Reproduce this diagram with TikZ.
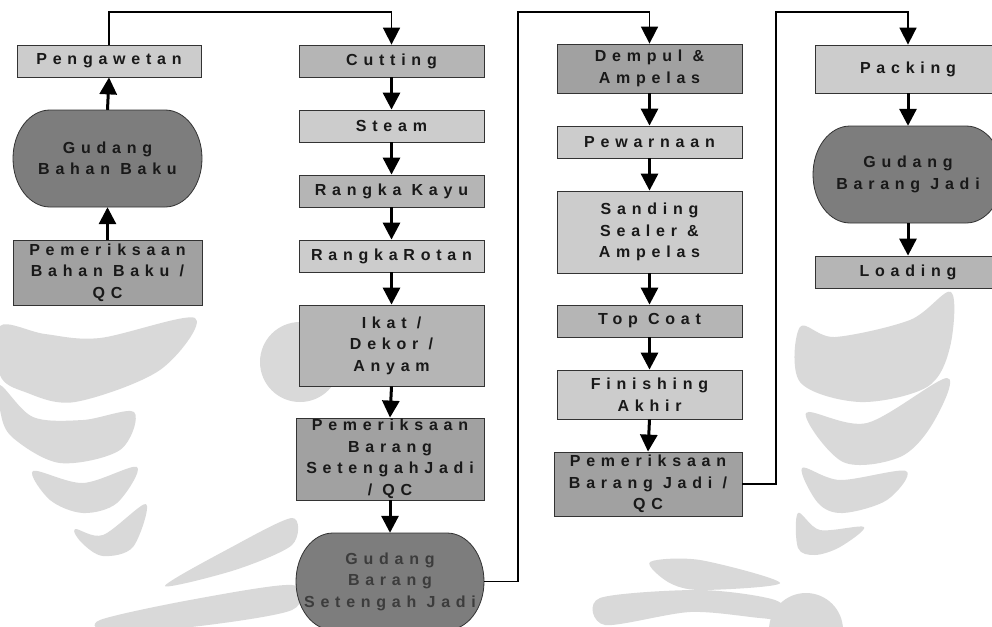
\documentclass[tikz,border=0pt]{standalone}
\usepackage{fontspec}
\newfontfamily\boxfont{Liberation Sans}[LetterSpace=36]
\usetikzlibrary{arrows.meta}

\definecolor{lite}{gray}{0.80}
\definecolor{mid}{gray}{0.71}
\definecolor{deep}{gray}{0.63}
\definecolor{store}{gray}{0.49}
\definecolor{ink}{gray}{0.10}
\definecolor{edge}{gray}{0.20}
\definecolor{mark}{gray}{0.85}

% stadium outline for the storage nodes: centre x, centre y, width, height, fill
\newcommand\storeshape[5]{%
  \filldraw[fill=#5, draw=edge, line width=0.8pt]
    ({#1-#3/2+37},{#2-#4/2}) -- ({#1+#3/2-37},{#2-#4/2})
    arc[start angle=90, end angle=-90, x radius=37pt, y radius=#4/2*1pt]
    -- ({#1-#3/2+37},{#2+#4/2})
    arc[start angle=270, end angle=90, x radius=37pt, y radius=#4/2*1pt]
    -- cycle;}

\begin{document}
\begin{tikzpicture}[x=1pt, y=-1pt,
  lbl/.style={align=center, inner sep=0pt, text=ink,
    font=\boxfont\bfseries\fontsize{16}{21.5}\selectfont},
  proc/.style={lbl, draw=edge, line width=0.8pt},
  flow/.style={line width=3pt, -{Triangle[width=17pt,length=17pt]}},
  route/.style={line width=1.7pt, -{Triangle[width=17pt,length=17pt]}},
  wm/.style={fill=mark, draw=none}]

\useasboundingbox (0,0) rectangle (992,626);
\fill[white] (0,0) rectangle (992,626);

% ---- faint emblem shapes in the background
\fill[wm] plot[smooth cycle, tension=0.55] coordinates {(0,326) (45,334) (100,338) (195,318) (160,370) (75,402) (25,392) (0,375)};
\fill[wm] plot[smooth cycle, tension=0.55] coordinates {(0,385) (33,417) (83,420) (134,412) (120,450) (60,463) (12,437) (0,410)};
\fill[wm] plot[smooth cycle, tension=0.55] coordinates {(33,471) (83,483) (137,467) (117,503) (83,513) (50,500)};
\fill[wm] plot[smooth cycle, tension=0.55] coordinates {(75,529) (103,535) (146,504) (133,547) (103,556) (82,543)};
\fill[wm] (300,362) circle[radius=40pt];
\fill[wm] plot[smooth cycle, tension=0.55] coordinates {(800,327) (835,337) (910,320) (951,292) (950,347) (927,387) (860,402) (800,382)};
\fill[wm] plot[smooth cycle, tension=0.55] coordinates {(806,413) (867,423) (947,378) (933,423) (900,457) (843,462)};
\fill[wm] plot[smooth cycle, tension=0.55] coordinates {(802,468) (840,480) (906,471) (887,500) (843,513) (818,503)};
\fill[wm] plot[smooth cycle, tension=0.55] coordinates {(798,513) (820,530) (864,527) (840,547) (815,555) (798,548)};
\fill[wm] (806,630) circle[radius=37pt];
\fill[wm] plot[smooth cycle, tension=0.5] coordinates {(165,586) (230,548) (292,518) (292,545) (235,570)};
\fill[wm] plot[smooth cycle, tension=0.5] coordinates {(100,620) (190,600) (292,585) (292,610) (200,626) (110,632)};
\fill[wm] plot[smooth cycle, tension=0.5] coordinates {(600,598) (700,590) (775,600) (790,620) (760,618) (690,612) (605,625)};
\fill[wm] plot[smooth cycle, tension=0.5] coordinates {(650,562) (700,560) (780,583) (700,590) (668,582)};

% ---- column 1
\node[proc, fill=lite, minimum width=184, minimum height=32] (peng) at (109,61) {Pengawetan};
\storeshape{107.5}{158.5}{189}{97}{store}
\node[lbl, minimum width=189, minimum height=97] (gbb) at (107.5,158.5) {Gudang\\Bahan Baku};
\node[proc, fill=deep, minimum width=189, minimum height=65] (pbb) at (107.5,272.5) {Pemeriksaan\\Bahan Baku /\\QC};

% ---- column 2
\node[proc, fill=mid, minimum width=185, minimum height=32] (cut) at (391.5,61) {Cutting};
\node[proc, fill=lite, minimum width=185, minimum height=32] (steam) at (391.5,126) {Steam};
\node[proc, fill=mid, minimum width=185, minimum height=32] (rk) at (391.5,191) {Rangka Kayu};
\node[proc, fill=lite, minimum width=185, minimum height=32] (rr) at (391.5,256) {RangkaRotan};
\node[proc, fill=mid, minimum width=185, minimum height=81] (ikat) at (391.5,345.5) {Ikat /\\Dekor /\\Anyam};
\node[proc, fill=deep, minimum width=188, minimum height=82] (pbsj) at (390,459) {Pemeriksaan\\Barang\\SetengahJadi\\/ QC};
\storeshape{390}{581.5}{188}{97}{store}
\node[lbl, text=ink!85, minimum width=188, minimum height=97] (gbsj) at (390,581.5) {Gudang\\Barang\\Setengah Jadi};

% ---- column 3
\node[proc, fill=deep, minimum width=185, minimum height=49] (demp) at (649.5,68.5) {Dempul \&\\Ampelas};
\node[proc, fill=lite, minimum width=185, minimum height=32] (warna) at (649.5,142) {Pewarnaan};
\node[proc, fill=lite, minimum width=185, minimum height=82] (sand) at (649.5,232) {Sanding\\Sealer \&\\Ampelas};
\node[proc, fill=mid, minimum width=185, minimum height=32] (top) at (649.5,321) {Top Coat};
\node[proc, fill=lite, minimum width=185, minimum height=49] (fin) at (649.5,394.5) {Finishing\\Akhir};
\node[proc, fill=deep, minimum width=188, minimum height=64] (pbj) at (648,484) {Pemeriksaan\\Barang Jadi /\\QC};

% ---- column 4
\node[proc, fill=lite, minimum width=186, minimum height=48] (pack) at (908,69) {Packing};
\storeshape{908}{174.5}{190}{97}{store}
\node[lbl, minimum width=190, minimum height=97] (gbj) at (908,174.5) {Gudang\\Barang Jadi};
\node[proc, fill=mid, minimum width=186, minimum height=32] (load) at (908,272) {Loading};

% ---- short arrows inside each column
\draw[flow] (pbb.north) -- (gbb.south);
\draw[flow] (gbb.north) -- (peng.south);
\draw[flow] (cut.south) -- (steam.north);
\draw[flow] (steam.south) -- (rk.north);
\draw[flow] (rk.south) -- (rr.north);
\draw[flow] (rr.south) -- (ikat.north);
\draw[flow] (ikat.south) -- (pbsj.north);
\draw[flow] (pbsj.south) -- (gbsj.north);
\draw[flow] (demp.south) -- (warna.north);
\draw[flow] (warna.south) -- (sand.north);
\draw[flow] (sand.south) -- (top.north);
\draw[flow] (top.south) -- (fin.north);
\draw[flow] (fin.south) -- (pbj.north);
\draw[flow] (pack.south) -- (gbj.north);
\draw[flow] (gbj.south) -- (load.north);

% ---- links between columns over the top
\coordinate (k1) at (250,12);
\coordinate (k2) at (518,12);
\coordinate (k3) at (776,12);
\draw[route] (peng.north) |- (k1) -| (cut.north);
\draw[route] (gbsj.east) -| (k2) -| (demp.north);
\draw[route] (pbj.east) -| (k3) -| (pack.north);
\end{tikzpicture}
\end{document}
